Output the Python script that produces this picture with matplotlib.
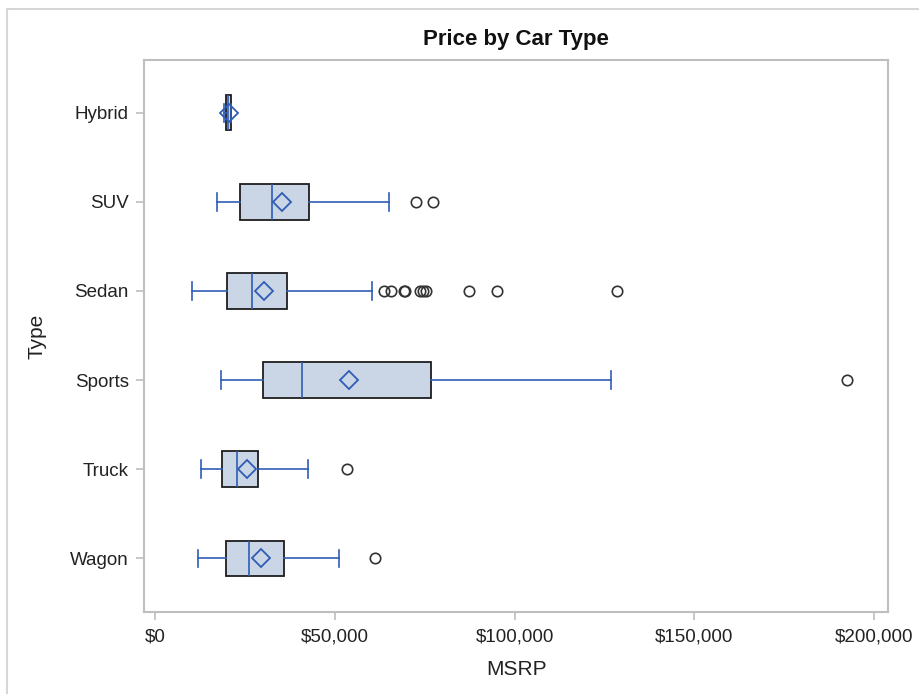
import matplotlib
matplotlib.use("Agg")
import matplotlib.pyplot as plt
from matplotlib.ticker import FuncFormatter
from matplotlib.patches import Rectangle

plt.rcParams['font.family'] = ['Liberation Sans', 'DejaVu Sans']

# Car types, top to bottom
types = ["Hybrid", "SUV", "Sedan", "Sports", "Truck", "Wagon"]

# Five-number summaries of MSRP (dollars) per type
whisker_lo = [19110, 17163, 10280, 18345, 12800, 12000]
q1 = [19610, 23500, 19900, 30000, 18700, 19700]
medians = [20400, 32600, 27000, 41000, 22800, 26100]
q3 = [21100, 42700, 36600, 76800, 28600, 35800]
whisker_hi = [21100, 65000, 60400, 126800, 42600, 51200]
means = [20600, 35400, 30200, 53800, 25600, 29500]

# Outlying prices per type
outliers = [
    [],
    [72600, 77400],
    [63800, 65500, 69200, 69600, 73600, 74600, 75300, 87300, 95100, 128420],
    [192465],
    [53500],
    [61200],
]

blue = "#2F5DB5"
fill = "#CAD5E5"
frame_gray = "#BEBEBE"
text_col = "#222222"

fig = plt.figure(figsize=(9.2, 6.94), dpi=100)
ax = fig.add_axes([0.1568, 0.1182, 0.9652 - 0.1568, 0.9135 - 0.1182])

# Light outer border of the figure panel
fig.patches.append(Rectangle((7 / 920, -0.01), 1.02, 1 - 9 / 694 + 0.01,
                             transform=fig.transFigure, fill=False,
                             edgecolor="#D6D6D6", linewidth=1.5))

stats = []
for i, t in enumerate(types):
    stats.append(dict(label=t, whislo=whisker_lo[i], q1=q1[i], med=medians[i],
                      q3=q3[i], whishi=whisker_hi[i], mean=means[i],
                      fliers=outliers[i]))

positions = list(range(len(types)))
ax.bxp(stats, positions=positions, vert=False, widths=0.4,
       patch_artist=True, showmeans=True, capwidths=0.2,
       boxprops=dict(facecolor=fill, edgecolor="#1E1E1E", linewidth=1.3),
       whiskerprops=dict(color=blue, linewidth=1.2),
       capprops=dict(color=blue, linewidth=1.2),
       medianprops=dict(color=blue, linewidth=1.2),
       meanprops=dict(marker="D", markerfacecolor="none",
                      markeredgecolor=blue, markersize=9.5,
                      markeredgewidth=1.3),
       flierprops=dict(marker="o", markerfacecolor="none",
                       markeredgecolor="#333333", markersize=7.5,
                       markeredgewidth=1.2))

ax.set_ylim(len(types) - 1 + 0.6, -0.59)
ax.set_xlim(-3000, 203800)
ax.set_xticks([0, 50000, 100000, 150000, 200000])
ax.xaxis.set_major_formatter(FuncFormatter(lambda v, p: "${:,.0f}".format(v)))
ax.set_yticks(positions)
ax.set_yticklabels(types)

for side in ax.spines.values():
    side.set_color(frame_gray)
    side.set_linewidth(1.5)
ax.tick_params(axis="both", colors=frame_gray, labelcolor=text_col,
               labelsize=13.5, length=6, width=1.2)
ax.tick_params(axis="x", pad=6)
ax.tick_params(axis="y", pad=5)

ax.set_xlabel("MSRP", fontsize=15, color=text_col, labelpad=10)
ax.set_ylabel("Type", fontsize=15, color=text_col, labelpad=17)
ax.set_title("Price by Car Type", fontsize=16, fontweight="bold",
             color="#111111", pad=11)

fig.savefig("out.png", dpi=100)
